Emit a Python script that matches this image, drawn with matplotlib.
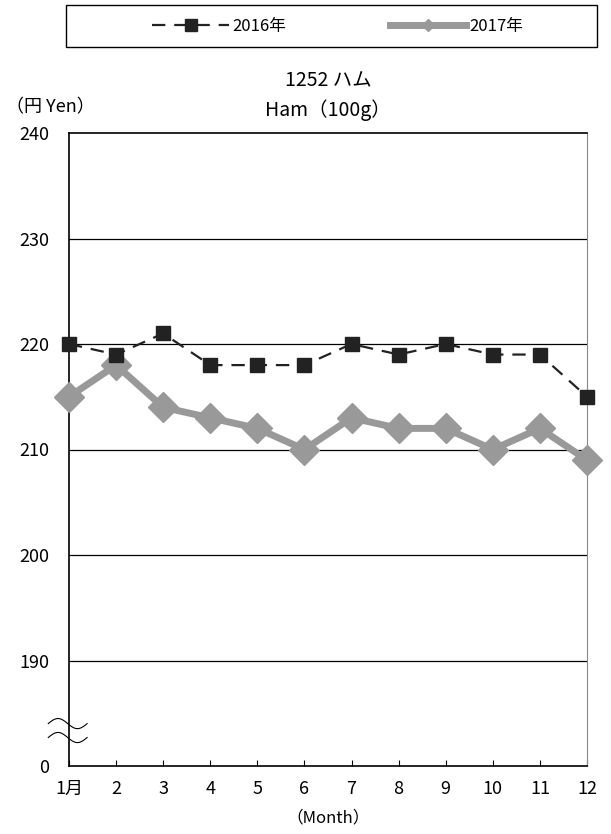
import numpy as np
import matplotlib.pyplot as plt
from matplotlib.lines import Line2D
from matplotlib.patches import Rectangle

plt.rcParams['font.family'] = ['Noto Sans CJK JP', 'DejaVu Sans']

months = [1, 2, 3, 4, 5, 6, 7, 8, 9, 10, 11, 12]
month_labels = ['1月', '2', '3', '4', '5', '6', '7', '8', '9', '10', '11', '12']
y2016 = [220, 219, 221, 218, 218, 218, 220, 219, 220, 219, 219, 215]
y2017 = [215, 218, 214, 213, 212, 210, 213, 212, 212, 210, 212, 209]
yticks = [180, 190, 200, 210, 220, 230, 240]
ytick_labels = ['0', '190', '200', '210', '220', '230', '240']  # 180 stands in for 0 (broken axis)

c2016 = '#222222'
c2017 = '#999999'

fig = plt.figure(figsize=(6.11, 8.34), dpi=100)
ax = fig.add_axes([69/611, 1-766/834, 518/611, 633/834])

ax.plot(months, y2016, color=c2016, lw=1.6, ls=(0, (6, 4)), marker='s', ms=10, zorder=4, clip_on=False)
ax.plot(months, y2017, color=c2017, lw=5, marker='D', ms=15, zorder=3, clip_on=False)

ax.set_xlim(1, 12)
ax.set_ylim(180, 240)
ax.set_xticks(months)
ax.set_xticklabels(month_labels, fontsize=13)
ax.set_yticks(yticks)
ax.set_yticklabels(ytick_labels, fontsize=13)
ax.tick_params(axis='x', direction='in', length=4, pad=10)
ax.tick_params(axis='y', length=0, pad=14)
for y in [190, 200, 210, 220, 230]:
    ax.axhline(y, color='black', lw=0.9, zorder=1)
ax.spines['right'].set_color('#888888')
for s in ['left', 'bottom', 'top']:
    ax.spines[s].set_color('black')
    ax.spines[s].set_linewidth(1.2)

# axis break marks
t = np.linspace(-1, 1, 50)
for dy in [0, 0.022]:
    ax.plot(-0.04 + 0.075*(t+1)/2, 0.045 + dy + 0.008*np.sin(np.pi*t + np.pi), color='black',
            lw=0.8, transform=ax.transAxes, clip_on=False, zorder=5)

ax.set_xlabel('（Month）', fontsize=12, labelpad=8)
ax.set_title('1252 ハム\nHam（100g）', fontsize=14, pad=12, linespacing=1.5)
fig.text(6/611, 1-107/834, '（円 Yen）', fontsize=13, va='center', ha='left')

# legend box
fig.patches.append(Rectangle((66/611, 1-47/834), 531/611, 42/834, transform=fig.transFigure,
                             fill=False, edgecolor='black', lw=1))
handles = [Line2D([], [], color=c2016, lw=1.6, ls=(0, (6, 4)), marker='s', ms=9),
           Line2D([], [], color=c2017, lw=5, marker='D', ms=6)]
fig.legend(handles, ['2016年', '2017年'], loc='center', bbox_to_anchor=(338/611, 1-26/834),
           ncol=2, frameon=False, fontsize=12, handlelength=4.6, columnspacing=6.2, handletextpad=0.2)

fig.savefig('out.png', dpi=100)
